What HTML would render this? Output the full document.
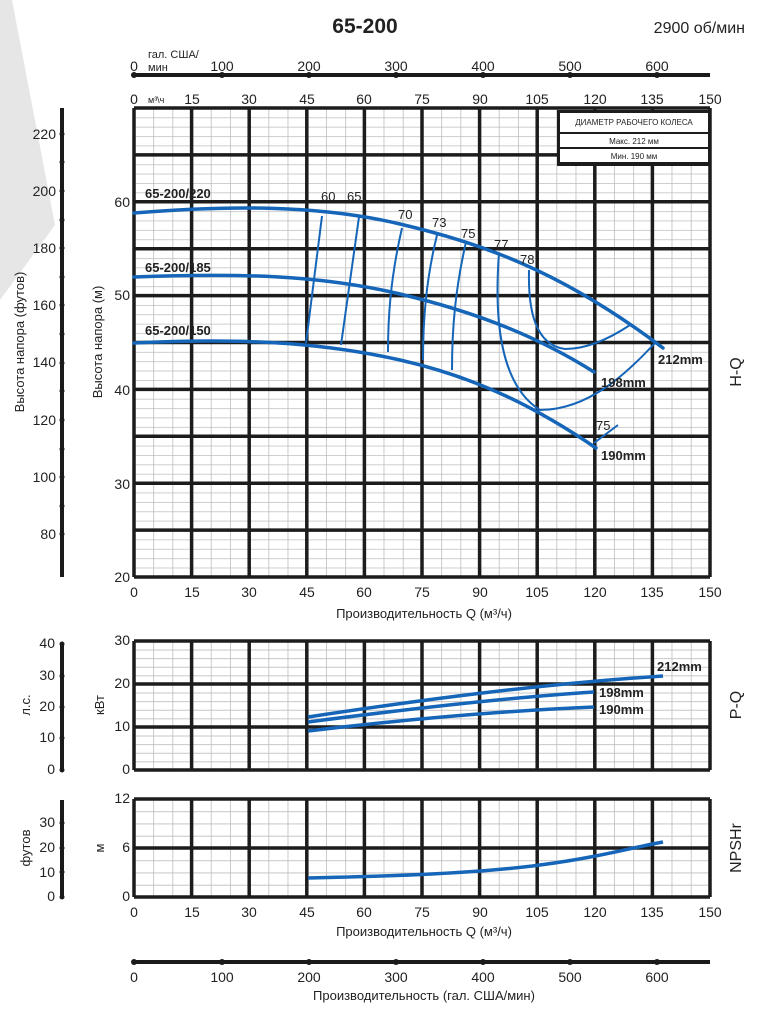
<!DOCTYPE html>
<html><head><meta charset="utf-8"><style>
html,body{margin:0;padding:0;background:#fff;}
svg{display:block;font-family:"Liberation Sans",sans-serif;}
</style></head><body>
<svg width="774" height="1023" viewBox="0 0 774 1023" xmlns="http://www.w3.org/2000/svg">
<defs>
<pattern id="gm" x="134" y="108" width="19.2" height="9.38" patternUnits="userSpaceOnUse">
<path d="M0 0V9.38M0 0H19.2" stroke="#bdbdbd" stroke-width="1.6" fill="none"/></pattern>
<pattern id="gp" x="134" y="641" width="19.2" height="8.6" patternUnits="userSpaceOnUse">
<path d="M0 0V8.6M0 0H19.2" stroke="#bdbdbd" stroke-width="1.6" fill="none"/></pattern>
<pattern id="gn" x="134" y="799" width="19.2" height="12.25" patternUnits="userSpaceOnUse">
<path d="M0 0V12.25M0 0H19.2" stroke="#bdbdbd" stroke-width="1.6" fill="none"/></pattern>
</defs>
<polygon points="0,0 12,0 55,225 0,300" fill="#e6e6e6"/>
<text x="365" y="33" font-size="21" font-weight="bold" text-anchor="middle" fill="#222">65-200</text>
<text x="745" y="33" font-size="16" text-anchor="end" fill="#222">2900 об/мин</text>

<!-- top gal axis -->
<line x1="134" y1="75" x2="710" y2="75" stroke="#1a1a1a" stroke-width="4"/>
<g fill="#1a1a1a"><circle cx="134" cy="75" r="3"/><circle cx="222" cy="75" r="3"/><circle cx="309" cy="75" r="3"/><circle cx="396" cy="75" r="3"/><circle cx="483" cy="75" r="3"/><circle cx="570" cy="75" r="3"/><circle cx="657" cy="75" r="3"/></g>
<g font-size="14" fill="#222" text-anchor="middle">
<text x="134" y="71">0</text><text x="222" y="71">100</text><text x="309" y="71">200</text><text x="396" y="71">300</text><text x="483" y="71">400</text><text x="570" y="71">500</text><text x="657" y="71">600</text>
</g>
<text x="148" y="58" font-size="11" fill="#222">гал. США/</text>
<text x="148" y="71" font-size="11" fill="#222">мин</text>
<g font-size="14" fill="#222" text-anchor="middle">
<text x="134" y="104">0</text><text x="192" y="104">15</text><text x="249" y="104">30</text><text x="307" y="104">45</text><text x="364" y="104">60</text><text x="422" y="104">75</text><text x="480" y="104">90</text><text x="537" y="104">105</text><text x="595" y="104">120</text><text x="652" y="104">135</text><text x="710" y="104">150</text>
</g>
<text x="148" y="103" font-size="9" fill="#222">м³\ч</text>

<!-- main grid -->
<rect x="134" y="108" width="576" height="469" fill="url(#gm)"/>
<g stroke="#1c1c1c" stroke-width="3.5">
<path d="M134 108V577M191.6 108V577M249.2 108V577M306.8 108V577M364.4 108V577M422 108V577M479.6 108V577M537.2 108V577M594.8 108V577M652.4 108V577M710 108V577"/>
<path d="M134 108H710M134 154.9H710M134 201.8H710M134 248.7H710M134 295.6H710M134 342.5H710M134 389.4H710M134 436.3H710M134 483.2H710M134 530.1H710M134 577H710"/>
</g>
<rect x="557" y="110" width="153" height="56" fill="#1c1c1c"/>
<rect x="560" y="113" width="148" height="19" fill="#fff"/>
<rect x="560" y="134" width="148" height="13" fill="#fff"/>
<rect x="560" y="149" width="148" height="13" fill="#fff"/>
<g font-size="8" fill="#222" text-anchor="middle"><text x="634" y="125">ДИАМЕТР РАБОЧЕГО КОЛЕСА</text><text x="634" y="144">Макс. 212 мм</text><text x="634" y="159">Мин. 190 мм</text></g>

<g font-size="14" fill="#222" text-anchor="end">
<text x="130" y="207">60</text><text x="130" y="300">50</text><text x="130" y="395">40</text><text x="130" y="489">30</text><text x="130" y="582">20</text>
</g>
<text transform="translate(102,342) rotate(-90)" font-size="13" fill="#222" text-anchor="middle">Высота напора (м)</text>

<!-- left feet axis -->
<line x1="62" y1="108" x2="62" y2="577" stroke="#1a1a1a" stroke-width="4"/>
<g font-size="14" fill="#222" text-anchor="end">
<text x="56" y="139">220</text><text x="56" y="196">200</text><text x="56" y="253">180</text><text x="56" y="310">160</text><text x="56" y="367">140</text><text x="56" y="425">120</text><text x="56" y="482">100</text><text x="56" y="539">80</text>
</g>
<g fill="#1a1a1a"><circle cx="62" cy="134" r="2.5"/><circle cx="62" cy="162" r="2.5"/><circle cx="62" cy="191" r="2.5"/><circle cx="62" cy="220" r="2.5"/><circle cx="62" cy="248" r="2.5"/><circle cx="62" cy="277" r="2.5"/><circle cx="62" cy="305" r="2.5"/><circle cx="62" cy="334" r="2.5"/><circle cx="62" cy="363" r="2.5"/><circle cx="62" cy="391" r="2.5"/><circle cx="62" cy="420" r="2.5"/><circle cx="62" cy="449" r="2.5"/><circle cx="62" cy="477" r="2.5"/><circle cx="62" cy="506" r="2.5"/><circle cx="62" cy="534" r="2.5"/></g>
<text transform="translate(24,342) rotate(-90)" font-size="13" fill="#222" text-anchor="middle">Высота напора (футов)</text>

<!-- curves -->
<g fill="none" stroke="#1565b8" stroke-width="3.5" stroke-linecap="round">
<path d="M134 213 C230 205 320 205 400 224 S560 270 663 348"/>
<path d="M134 277 C240 273 320 275 400 294 S540 338 594 372"/>
<path d="M134 343 C240 338 320 342 400 360 S540 410 596 448"/>
</g>
<g fill="none" stroke="#1565b8" stroke-width="2">
<path d="M322 216 L306 343"/>
<path d="M359 217 L341 345"/>
<path d="M402 228 C390 280 388 320 388 352"/>
<path d="M437 235 C426 280 423 320 423 360"/>
<path d="M466 242 C455 290 452 330 452 370"/>
<path d="M499 253 C494 320 500 385 540 410 C590 410 630 370 655 343"/>
<path d="M529 270 C528 310 535 345 565 349 C590 349 615 335 630 325"/>
<path d="M594 443 L618 425"/>
</g>
<g font-size="13" fill="#222">
<text x="321" y="201">60</text><text x="347" y="201">65</text><text x="398" y="219">70</text><text x="432" y="227">73</text><text x="461" y="238">75</text><text x="494" y="249">77</text><text x="520" y="264">78</text><text x="596" y="430">75</text>
</g>
<g font-size="13" font-weight="bold" fill="#222">
<text x="145" y="198">65-200/220</text><text x="145" y="272">65-200/185</text><text x="145" y="335">65-200/150</text>
<text x="658" y="364">212mm</text><text x="601" y="387">198mm</text><text x="601" y="460">190mm</text>
</g>
<text transform="translate(741,372) rotate(-90)" font-size="16" fill="#222" text-anchor="middle">H-Q</text>
<g font-size="14" fill="#222" text-anchor="middle">
<text x="134" y="597">0</text><text x="192" y="597">15</text><text x="249" y="597">30</text><text x="307" y="597">45</text><text x="364" y="597">60</text><text x="422" y="597">75</text><text x="480" y="597">90</text><text x="537" y="597">105</text><text x="595" y="597">120</text><text x="652" y="597">135</text><text x="710" y="597">150</text>
</g>
<text x="424" y="618" font-size="13" fill="#222" text-anchor="middle">Производительность Q (м³/ч)</text>

<!-- P-Q -->
<rect x="134" y="641" width="576" height="129" fill="url(#gp)"/>
<g stroke="#1c1c1c" stroke-width="3.5">
<path d="M134 641V770M191.6 641V770M249.2 641V770M306.8 641V770M364.4 641V770M422 641V770M479.6 641V770M537.2 641V770M594.8 641V770M652.4 641V770M710 641V770"/>
<path d="M134 641H710M134 684H710M134 727H710M134 770H710"/>
</g>
<g font-size="14" fill="#222" text-anchor="end">
<text x="130" y="645">30</text><text x="130" y="688">20</text><text x="130" y="731">10</text><text x="130" y="774">0</text>
</g>
<text transform="translate(104,705) rotate(-90)" font-size="13" fill="#222" text-anchor="middle">кВт</text>
<line x1="62" y1="644" x2="62" y2="770" stroke="#1a1a1a" stroke-width="4"/>
<g fill="#1a1a1a"><circle cx="62" cy="644" r="2.5"/><circle cx="62" cy="676" r="2.5"/><circle cx="62" cy="707" r="2.5"/><circle cx="62" cy="738" r="2.5"/><circle cx="62" cy="770" r="2.5"/></g>
<g font-size="14" fill="#222" text-anchor="end">
<text x="55" y="648">40</text><text x="55" y="680">30</text><text x="55" y="711">20</text><text x="55" y="742">10</text><text x="55" y="774">0</text>
</g>
<text transform="translate(30,705) rotate(-90)" font-size="13" fill="#222" text-anchor="middle">л.с.</text>
<g fill="none" stroke="#1565b8" stroke-width="3.5">
<path d="M308 717 C420 700 540 684 663 676"/>
<path d="M308 722 C400 710 500 698 594 692"/>
<path d="M308 731 C400 720 500 711 594 707"/>
</g>
<g font-size="13" font-weight="bold" fill="#222">
<text x="657" y="671">212mm</text><text x="599" y="697">198mm</text><text x="599" y="714">190mm</text>
</g>
<text transform="translate(741,705) rotate(-90)" font-size="16" fill="#222" text-anchor="middle">P-Q</text>

<!-- NPSH -->
<rect x="134" y="799" width="576" height="98" fill="url(#gn)"/>
<g stroke="#1c1c1c" stroke-width="3.5">
<path d="M134 799V897M191.6 799V897M249.2 799V897M306.8 799V897M364.4 799V897M422 799V897M479.6 799V897M537.2 799V897M594.8 799V897M652.4 799V897M710 799V897"/>
<path d="M134 799H710M134 848H710M134 897H710"/>
</g>
<g font-size="14" fill="#222" text-anchor="end">
<text x="130" y="803">12</text><text x="130" y="852">6</text><text x="130" y="901">0</text>
</g>
<text transform="translate(104,848) rotate(-90)" font-size="13" fill="#222" text-anchor="middle">м</text>
<line x1="62" y1="800" x2="62" y2="897" stroke="#1a1a1a" stroke-width="4"/>
<g fill="#1a1a1a"><circle cx="62" cy="823" r="2.5"/><circle cx="62" cy="848" r="2.5"/><circle cx="62" cy="872" r="2.5"/><circle cx="62" cy="897" r="2.5"/></g>
<g font-size="14" fill="#222" text-anchor="end">
<text x="55" y="827">30</text><text x="55" y="852">20</text><text x="55" y="877">10</text><text x="55" y="901">0</text>
</g>
<text transform="translate(30,848) rotate(-90)" font-size="13" fill="#222" text-anchor="middle">футов</text>
<path d="M308 878 C400 876 480 873 540 865 S630 848 663 842" fill="none" stroke="#1565b8" stroke-width="3.5"/>
<text transform="translate(741,848) rotate(-90)" font-size="16" fill="#222" text-anchor="middle">NPSHr</text>
<g font-size="14" fill="#222" text-anchor="middle">
<text x="134" y="917">0</text><text x="192" y="917">15</text><text x="249" y="917">30</text><text x="307" y="917">45</text><text x="364" y="917">60</text><text x="422" y="917">75</text><text x="480" y="917">90</text><text x="537" y="917">105</text><text x="595" y="917">120</text><text x="652" y="917">135</text><text x="710" y="917">150</text>
</g>
<text x="424" y="936" font-size="13" fill="#222" text-anchor="middle">Производительность Q (м³/ч)</text>

<!-- bottom gal axis -->
<line x1="134" y1="962" x2="710" y2="962" stroke="#1a1a1a" stroke-width="4"/>
<g fill="#1a1a1a"><circle cx="134" cy="962" r="3"/><circle cx="222" cy="962" r="3"/><circle cx="309" cy="962" r="3"/><circle cx="396" cy="962" r="3"/><circle cx="483" cy="962" r="3"/><circle cx="570" cy="962" r="3"/><circle cx="657" cy="962" r="3"/></g>
<g font-size="14" fill="#222" text-anchor="middle">
<text x="134" y="982">0</text><text x="222" y="982">100</text><text x="309" y="982">200</text><text x="396" y="982">300</text><text x="483" y="982">400</text><text x="570" y="982">500</text><text x="657" y="982">600</text>
</g>
<text x="424" y="1000" font-size="13" fill="#222" text-anchor="middle">Производительность (гал. США/мин)</text>
</svg>
</body></html>
